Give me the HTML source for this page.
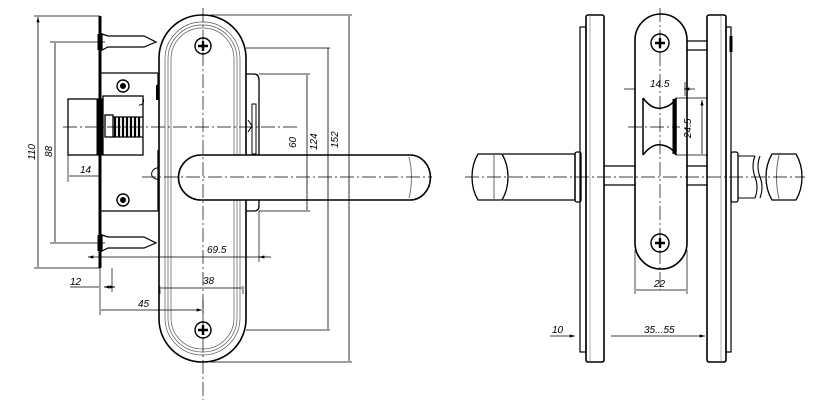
<!DOCTYPE html>
<html><head><meta charset="utf-8"><style>
html,body{margin:0;padding:0;background:#fff;width:839px;height:413px;overflow:hidden}
svg{display:block}
text{font-family:"Liberation Sans",sans-serif;font-size:10px;font-style:italic;fill:#000}
</style></head><body>
<svg width="839" height="413" viewBox="0 0 839 413" xmlns="http://www.w3.org/2000/svg">
<defs>
<marker id="a" viewBox="0 0 10 6" refX="10" refY="3" markerWidth="7" markerHeight="4" orient="auto-start-reverse"><path d="M0,0L10,3L0,6z" fill="#000"/></marker>
</defs>
<g fill="none" stroke="#000" stroke-width="1">
<rect x="159" y="15" width="87" height="347" rx="43" stroke-width="1.6"/>
<rect x="165" y="22" width="75" height="333" rx="37" stroke="#555" stroke-width="0.7"/>
<rect x="168" y="25" width="69" height="327" rx="34" stroke="#555" stroke-width="0.7"/>
<rect x="171" y="28" width="63" height="321" rx="31" stroke="#555" stroke-width="0.7"/>
<path d="M101,73H158M101,211H158M158,73V100M158,150V211" stroke-width="1.2"/>
<path d="M157,85V100" stroke-width="2"/>
<rect x="103" y="96" width="40" height="59" stroke-width="1.3"/>
<rect x="68" y="99" width="33" height="56" stroke-width="1.3"/>
<rect x="97" y="99" width="5" height="56" fill="#000"/>
<rect x="105" y="115" width="8" height="22" stroke-width="1.3"/>
<g stroke-width="2.2"><path d="M115,117V137M119,117V137M123,117V137M127,117V137M131,117V137M135,117V137M139,117V137"/></g>
<path d="M113,117H143M113,137H143" stroke-width="1.3"/>
<path d="M143,99a4,4 0 0 1-4,6M158,168a6,6 0 0 0-6,8a6,6 0 0 0 6,3"/>
<circle cx="123" cy="86" r="6" stroke-width="1.4"/><circle cx="123" cy="86" r="2.5" fill="#000"/>
<circle cx="123" cy="200" r="6" stroke-width="1.4"/><circle cx="123" cy="200" r="2.5" fill="#000"/>
<path d="M100,16V268" stroke-width="3"/>
<path d="M102,34L108,36H144L156,42L144,47H108L102,50Z" stroke-width="1.2"/>
<path d="M102,235L108,237H144L156,243L144,248H108L102,251Z" stroke-width="1.2"/>
<path d="M100,34V50M100,235V251" stroke-width="5"/>
<path d="M246,74H254q5,0 5,6V206q0,5-5,5H246" stroke-width="1.3"/>
<path d="M252,104h4v50h-4zM248,120l4,6l-4,6" stroke-width="1"/>
<path d="M201,155H410a20,22 0 0 1 0,45H201a22,22 0 0 1 0-45Z" stroke-width="1.6" fill="#fff"/>
<path d="M409,157q5,20 0,41" stroke="#777"/>
<circle cx="203" cy="46" r="8" stroke-width="1.4"/><path d="M198,46h10M203,41v10" stroke-width="2.4"/>
<circle cx="203" cy="330" r="8" stroke-width="1.4"/><path d="M198,330h10M203,325v10" stroke-width="2.4"/>
<g stroke-width="0.7" stroke-dasharray="14,3,2,3">
<path d="M203,8V400M63,127H300M142,177H432"/>
</g>
<g stroke-width="0.7">
<path d="M34,16H100M34,268H100M50,42H105M50,243H105M68,155V182M100,268V315M259,211V262M246,48H330M246,330H330M259,74H310M259,211H310M210,15H352M210,362H352M160,286V294M243,286V294M203,300V316M112,268V292"/>
</g>
<g stroke-width="0.8" marker-start="url(#a)" marker-end="url(#a)">
<path d="M38,17V267M55,43V242M69,176H99M307,75V210M328,48V329M349,16V361M161,288H242M101,310H202"/>
</g>
<path d="M88,257H99M99,257H266" stroke-width="0.8" marker-start="url(#a)"/>
<path d="M259,257H271" stroke-width="0.8" marker-start="url(#a)"/>
<path d="M70,287H99M104,287H115" stroke-width="0.8" marker-end="url(#a)"/>
<path d="M115,287H104" stroke-width="0.8" marker-end="url(#a)"/>
<rect x="586" y="15" width="18" height="347" rx="2" stroke-width="1.6"/>
<rect x="580" y="27" width="6" height="325" stroke-width="1.2"/>
<rect x="707" y="15" width="19" height="347" rx="2" stroke-width="1.6"/>
<rect x="726" y="27" width="5" height="325" stroke-width="1.2"/>
<path d="M590,15V362M721,15V362" stroke="#777" stroke-width="0.6"/>
<path d="M604,166H707M604,185H707" stroke-width="1.3"/>
<path d="M635,40a26,26 0 0 1 52,0V243a26,26 0 0 1-52,0Z" stroke-width="1.6" fill="#fff"/>
<path d="M687,41H707M687,50H707" stroke-width="1.3"/>
<path d="M731,36V52" stroke-width="3"/>
<circle cx="660" cy="43" r="9" stroke-width="1.4"/><path d="M655,43h10M660,38v10" stroke-width="2.4"/>
<circle cx="660" cy="243" r="9" stroke-width="1.4"/><path d="M655,243h10M660,238v10" stroke-width="2.4"/>
<path d="M643,98q9,12 19,10t14,-10M643,155q9,-12 19,-10t14,10M643,98V155M676,98V155" stroke-width="1.5"/>
<path d="M674,99V154" stroke-width="3"/>
<path d="M503,154H575V200H503" stroke-width="1.3"/>
<path d="M478,154H502q6,10 6,23t-6,23H478q-6,-10-6,-23t6,-23Z" stroke-width="1.3" fill="#fff"/>
<path d="M494,155V199" stroke="#666"/>
<rect x="575" y="152" width="6" height="50" rx="2" stroke-width="1.3"/>
<rect x="731" y="152" width="7" height="50" rx="2" stroke-width="1.3"/>
<path d="M738,156H755M738,198H755M755,156q-4,10 0,21q4,10 0,21M760,156q-4,10 0,21q4,10 0,21" stroke-width="1.1"/>
<path d="M772,154H796q6,10 6,23t-6,23H772q-6,-10-6,-23t6,-23Z" stroke-width="1.3" fill="#fff"/>
<path d="M779,155q-5,22 0,44" stroke="#666"/>
<g stroke-width="0.7" stroke-dasharray="14,3,2,3">
<path d="M465,177H805M660,8V290M628,127H680"/>
</g>
<g stroke-width="0.7">
<path d="M635,82V96M685,82V96M676,98H708M676,155H708M635,250V294M687,250V294"/>
</g>
<g stroke-width="0.8" marker-start="url(#a)" marker-end="url(#a)">
<path d="M624,89H635M695,89H684" marker-start="none"/>
<path d="M702,100V154M636,290H686M611,336H705"/>
</g>
<path d="M550,336H575" stroke-width="0.8" marker-end="url(#a)"/>
</g>
<g>
<text transform="translate(35,160) rotate(-90)">110</text>
<text transform="translate(52,157) rotate(-90)">88</text>
<text x="80" y="173">14</text>
<text x="70" y="285">12</text>
<text x="138" y="307">45</text>
<text x="203" y="284">38</text>
<text x="207" y="253">69.5</text>
<text transform="translate(296,148) rotate(-90)">60</text>
<text transform="translate(317,150) rotate(-90)">124</text>
<text transform="translate(338,148) rotate(-90)">152</text>
<text x="650" y="87">14.5</text>
<text transform="translate(691,138) rotate(-90)">24.5</text>
<text x="654" y="287">22</text>
<text x="552" y="333">10</text>
<text x="644" y="333">35...55</text>
</g>
</svg>
</body></html>
